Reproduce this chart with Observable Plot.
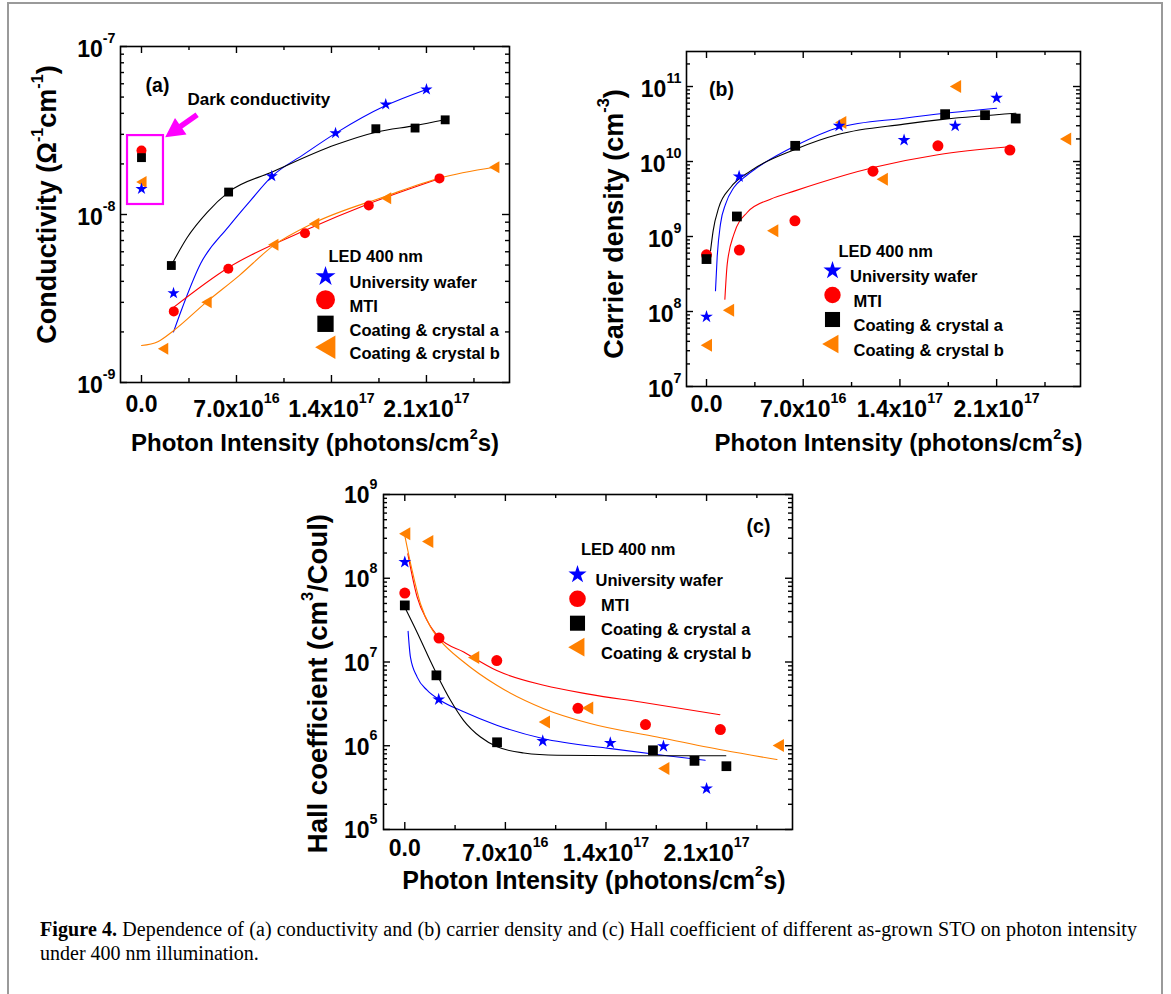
<!DOCTYPE html>
<html>
<head>
<meta charset="utf-8">
<script src="https://cdn.jsdelivr.net/npm/d3@7"></script>
<script src="https://cdn.jsdelivr.net/npm/@observablehq/plot@0.6"></script>
<style>
  body { margin: 0; background: #fff; }
  #fig { position: relative; width: 1171px; height: 994px; overflow: hidden; background: #fff; }
</style>
</head>
<body>
<div id="fig"></div>
<script>
// ---------------- DATA ----------------
const seriesNames = ["University wafer", "MTI", "Coating & crystal a", "Coating & crystal b"];

// photon intensity (photons/cm^2 s) for each sample
const intensityWafer = [0, 2.36e16, 9.6e16, 1.43e17, 1.8e17, 2.1e17];
const intensityMTI   = [0, 2.38e16, 6.4e16, 1.205e17, 1.675e17, 2.196e17];
const intensityCoatA = [0, 2.2e16, 6.42e16, 1.727e17, 2.016e17, 2.238e17];
const intensityCoatB = [0, 1.6e16, 4.8e16, 9.72e16, 1.273e17, 1.803e17, 2.6e17];

// (a) conductivity (1/(Ohm cm))
const condWafer = [1.42e-8, 3.4e-9, 1.69e-8, 3.05e-8, 4.52e-8, 5.55e-8];
const condMTI   = [2.40e-8, 2.65e-9, 4.75e-9, 7.74e-9, 1.13e-8, 1.64e-8];
const condCoatA = [2.18e-8, 4.97e-9, 1.36e-8, 3.24e-8, 3.27e-8, 3.66e-8];
const condCoatB = [1.56e-8, 1.59e-9, 3.0e-9, 6.6e-9, 8.8e-9, 1.25e-8, 1.91e-8];

// (b) carrier density (cm^-3)
const densWafer = [8.5e7, 6.3e9, 2.99e10, 1.93e10, 2.99e10, 7.06e10];
const densMTI   = [5.7e8, 6.6e8, 1.62e9, 7.43e9, 1.62e10, 1.42e10];
const densCoatA = [5.0e8, 1.85e9, 1.62e10, 4.28e10, 4.15e10, 3.74e10];
const densCoatB = [3.56e7, 1.04e8, 1.19e9, 3.31e10, 5.8e9, 1.0e11, 1.99e10];

// (c) Hall coefficient (cm^3/Coul)
const hallWafer = [1.56e8, 3.56e6, 1.14e6, 1.08e6, 9.87e5, 3.08e5];
const hallMTI   = [6.65e7, 1.93e7, 1.04e7, 2.8e6, 1.79e6, 1.56e6];
const hallCoatA = [4.74e7, 6.93e6, 1.1e6, 8.83e5, 6.6e5, 5.7e5];
const hallCoatB = [3.4e8, 2.75e8, 1.13e7, 1.92e6, 2.83e6, 5.35e5, 1.01e6];

// fitted curves
const fitCondWaferX = [2.36e16, 2.87e16, 4.35e16, 6.39e16, 8.03e16, 9.63e16, 1.196e17, 1.432e17, 1.8e17, 2.1e17];
const fitCondWaferY = [2.0e-9, 2.6e-9, 5.09e-9, 8.41e-9, 1.21e-8, 1.69e-8, 2.28e-8, 3.05e-8, 4.45e-8, 5.55e-8];
const fitCondMTIX = [2.36e16, 6.39e16, 1.203e17, 1.675e17, 2.198e17];
const fitCondMTIY = [2.8e-9, 4.82e-9, 8.03e-9, 1.16e-8, 1.64e-8];
const fitCondCoatAX = [2.19e16, 3.37e16, 4.84e16, 6.41e16, 9.63e16, 1.43e17, 1.727e17, 2.016e17, 2.237e17];
const fitCondCoatAY = [4.97e-9, 7.3e-9, 1.03e-8, 1.36e-8, 1.79e-8, 2.6e-8, 3.09e-8, 3.38e-8, 3.66e-8];
const fitCondCoatBX = [0, 1.2e16, 2.38e16, 4.76e16, 7.2e16, 9.7e16, 1.27e17, 1.8e17, 2.2e17, 2.6e17];
const fitCondCoatBY = [1.66e-9, 1.75e-9, 2.04e-9, 3.0e-9, 4.33e-9, 6.5e-9, 8.9e-9, 1.285e-8, 1.65e-8, 1.91e-8];

const fitDensWaferX = [6.5e15, 7.7e15, 1.01e16, 1.38e16, 1.98e16, 2.7e16, 3.67e16, 6.44e16, 9.58e16, 1.43e17, 1.726e17, 2.1e17];
const fitDensWaferY = [1.89e8, 5.25e8, 1.46e9, 2.7e9, 4.5e9, 6.1e9, 8.3e9, 1.62e10, 2.84e10, 3.78e10, 4.4e10, 5.13e10];
const fitDensMTIX = [1.33e16, 1.5e16, 1.98e16, 2.94e16, 4.63e16, 6.4e16, 1.207e17, 1.675e17, 2.194e17];
const fitDensMTIY = [1.46e8, 4.28e8, 1.07e9, 2.09e9, 3.15e9, 4.06e9, 8.3e9, 1.23e10, 1.57e10];
const fitDensCoatAX = [2.9e15, 4.8e15, 8.9e15, 1.74e16, 3.19e16, 6.44e16, 9.58e16, 1.43e17, 1.726e17, 2.24e17];
const fitDensCoatAY = [6.4e8, 1.19e9, 2.44e9, 4.5e9, 7.5e9, 1.46e10, 2.31e10, 3.15e10, 3.67e10, 4.4e10];

const fitHallWaferX = [2.3e15, 3.9e15, 8.6e15, 1.55e16, 2.46e16, 4.1e16, 6.4e16, 9.6e16, 1.434e17, 1.796e17, 2.09e17];
const fitHallWaferY = [2.32e7, 1.15e7, 6.6e6, 4.6e6, 3.5e6, 2.54e6, 1.76e6, 1.22e6, 9.25e5, 7.7e5, 6.7e5];
const fitHallMTIX = [2.1e15, 8.6e15, 1.55e16, 2.46e16, 4.1e16, 6.4e16, 9.67e16, 1.29e17, 1.64e17, 2.193e17];
const fitHallMTIY = [1.96e8, 5.96e7, 3.14e7, 1.9e7, 1.32e7, 7.9e6, 5.27e6, 4.11e6, 3.33e6, 2.35e6];
const fitHallCoatAX = [0, 8.6e15, 1.79e16, 2.25e16, 3.18e16, 4.1e16, 5.27e16, 6.43e16, 8.28e16, 1.06e17, 1.52e17, 2.234e17];
const fitHallCoatAY = [4.5e7, 2.25e7, 1.02e7, 7.0e6, 3.49e6, 2.0e6, 1.27e6, 9.7e5, 8.2e5, 7.7e5, 7.6e5, 7.6e5];
const fitHallCoatBX = [0, 5.1e15, 1.09e16, 1.79e16, 2.46e16, 4.1e16, 6.4e16, 9.67e16, 1.29e17, 1.756e17, 2.22e17, 2.59e17];
const fitHallCoatBY = [3.24e8, 1.24e8, 4.96e7, 2.61e7, 1.81e7, 1.0e7, 5.27e6, 2.77e6, 1.84e6, 1.27e6, 8.84e5, 6.84e5];

// axis ticks
const xMajorTicks = [0, 7e16, 1.4e17, 2.1e17];
const xMinorTicks = [3.5e16, 1.05e17, 1.75e17, 2.45e17];

// annotation of panel (a): dark-conductivity box and arrow (data units)
const darkBox = [{x1: -1.03e16, x2: 1.62e16, y1: 1.147e-8, y2: 2.95e-8}];
const darkArrow = [{x: 4.1e16, y: 3.92e-8}];

// ---------------- STYLE ----------------
const INTENSITY = [intensityWafer, intensityMTI, intensityCoatA, intensityCoatB];
const COLORS = ["#0000ff", "#ff0000", "#000000", "#ff8000"];
const triangleLeft = {
  draw(ctx, size) {
    const s = Math.sqrt(size / Math.PI);
    ctx.moveTo(-1.15 * s, 0);
    ctx.lineTo(1.1 * s, -1.3 * s);
    ctx.lineTo(1.1 * s, 1.3 * s);
    ctx.closePath();
  }
};
const SYMBOLS = ["star", "circle", "square", triangleLeft];
const arrowShape = {
  draw(ctx, l) {
    const hw = 2.8, hh = 10, hl = 19;
    ctx.moveTo(-hw, 0);
    ctx.lineTo(-hw, -(l - hl));
    ctx.lineTo(-hh, -(l - hl));
    ctx.lineTo(0, -l);
    ctx.lineTo(hh, -(l - hl));
    ctx.lineTo(hw, -(l - hl));
    ctx.lineTo(hw, 0);
    ctx.closePath();
  }
};
const SANS = "'Liberation Sans', Arial, Helvetica, sans-serif";

function logTicks(lo, hi) {
  const major = [], minor = [];
  for (let k = Math.floor(Math.log10(lo)); k <= Math.ceil(Math.log10(hi)); k++) {
    for (let m = 1; m <= 9; m++) {
      const v = +(m + "e" + k);
      if (v < lo * 0.999 || v > hi * 1.001) continue;
      (m === 1 ? major : minor).push(v);
    }
  }
  return {major, minor};
}

function fmtX(d) {
  if (d === 0) return "0.0";
  const e = Math.floor(Math.log10(d) + 1e-9);
  return (d / Math.pow(10, e)).toFixed(1) + "x10^{" + e + "}";
}
function fmtY(d) { return "10^{" + Math.round(Math.log10(d)) + "}"; }

const panels = [
  {
    left: 0, top: 0, width: 590, height: 465,
    margin: {top: 46, right: 81, bottom: 83, left: 120},
    xDomain: [-1.547e16, 2.712e17], yDomain: [1e-9, 1e-7],
    ys: [condWafer, condMTI, condCoatA, condCoatB],
    fits: [[fitCondWaferX, fitCondWaferY], [fitCondMTIX, fitCondMTIY], [fitCondCoatAX, fitCondCoatAY], [fitCondCoatBX, fitCondCoatBY]],
    dotR: [3.8, 5.0, 5.0, 4.6], legR: [6.3, 9.5, 9.2, 9.0],
    xPad: 13, yPad: 5, yDy: 3, tickFont: 23,
    xLabel: "Photon Intensity (photons/cm^{2}s)", xLabelFont: 24, xLabelDx: 0, xLabelDy: 61,
    yLabel: "Conductivity (Ω^{-1}cm^{-1})", yLabelFont: 27, yLabelDx: -73, yLabelDy: -10,
    tag: "(a)", tagDx: 37, tagDy: 32,
    leg: {titleDx: 208, titleDy: 204, symDx: [205, 205, 205, 205], dy: [230, 253.3, 277.3, 300.7], textDx: [229, 229, 229, 229]}
  },
  {
    left: 590, top: 0, width: 581, height: 465,
    margin: {top: 51, right: 91, bottom: 79, left: 96},
    xDomain: [-1.448e16, 2.707e17], yDomain: [1e7, 2.93e11],
    ys: [densWafer, densMTI, densCoatA, densCoatB],
    fits: [[fitDensWaferX, fitDensWaferY], [fitDensMTIX, fitDensMTIY], [fitDensCoatAX, fitDensCoatAY], null],
    dotR: [4.0, 5.5, 5.5, 5.0], legR: [5.7, 8.2, 8.5, 7.2],
    xPad: 9, yPad: 5, yDy: 3, tickFont: 23,
    xLabel: "Photon Intensity (photons/cm^{2}s)", xLabelFont: 24, xLabelDx: 15, xLabelDy: 56.6,
    yLabel: "Carrier density (cm^{-3})", yLabelFont: 27, yLabelDx: -72.3, yLabelDy: 5,
    tag: "(b)", tagDx: 35, tagDy: 31,
    leg: {titleDx: 152, titleDy: 194, symDx: [146, 146, 146, 144], dy: [219, 243.5, 268, 292.5], textDx: [163.5, 167, 167, 167]}
  },
  {
    left: 290, top: 465, width: 560, height: 435,
    margin: {top: 29, right: 58, bottom: 71, left: 93},
    xDomain: [-1.482e16, 2.698e17], yDomain: [1e5, 1e9],
    ys: [hallWafer, hallMTI, hallCoatA, hallCoatB],
    fits: [[fitHallWaferX, fitHallWaferY], [fitHallMTIX, fitHallMTIY], [fitHallCoatAX, fitHallCoatAY], [fitHallCoatBX, fitHallCoatBY]],
    dotR: [4.0, 5.5, 5.5, 5.0], legR: [5.7, 8.3, 8.5, 7.2],
    xPad: 10.5, yPad: 6, yDy: 1.5, tickFont: 23,
    xLabel: "Photon Intensity (photons/cm^{2}s)", xLabelFont: 25, xLabelDx: 6, xLabelDy: 51.3,
    yLabel: "Hall coefficient (cm^{3}/Coul)", yLabelFont: 27.5, yLabelDx: -65.3, yLabelDy: 21.6,
    tag: "(c)", tagDx: 375, tagDy: 24.3,
    leg: {titleDx: 197.5, titleDy: 49, symDx: [194, 194, 194, 193], dy: [80, 104.3, 128.7, 152.7], textDx: [212, 217.5, 217.5, 217.5]}
  }
];

function buildPanel(p, idx) {
  const m = p.margin;
  const fw = p.width - m.left - m.right, fh = p.height - m.top - m.bottom;
  const yt = logTicks(p.yDomain[0], p.yDomain[1]);
  const tickStyle = {stroke: "black", strokeWidth: 1.4};
  const marks = [];
  // inward ticks on all four sides
  for (const [vals, len] of [[xMajorTicks, 7], [xMinorTicks, 4]]) {
    marks.push(Plot.ruleX(vals, {x: d => d, insetTop: fh - len, ...tickStyle}));
    marks.push(Plot.ruleX(vals, {x: d => d, insetBottom: fh - len, ...tickStyle}));
  }
  for (const [vals, len] of [[yt.major, 7], [yt.minor, 4]]) {
    marks.push(Plot.ruleY(vals, {y: d => d, insetRight: fw - len, ...tickStyle}));
    marks.push(Plot.ruleY(vals, {y: d => d, insetLeft: fw - len, ...tickStyle}));
  }
  // fitted curves
  p.fits.forEach((f, i) => {
    if (!f) return;
    const [fx, fy] = f;
    marks.push(Plot.line(fx.map((x, j) => ({x, y: fy[j]})),
      {x: "x", y: "y", stroke: COLORS[i], strokeWidth: 1.1, curve: "monotone-x"}));
  });
  // annotations of panel (a)
  if (idx === 0) {
    marks.push(Plot.rect(darkBox, {x1: "x1", x2: "x2", y1: "y1", y2: "y2", fill: "none", stroke: "#ff00ff", strokeWidth: 2.2}));
    marks.push(Plot.vector(darkArrow, {x: "x", y: "y", length: 39, rotate: 235, anchor: "start",
      shape: arrowShape, fill: "#ff00ff", stroke: "none"}));
    marks.push(Plot.text(["Dark conductivity"], {frameAnchor: "top-left", dx: 67, dy: 46, text: d => d,
      textAnchor: "start", fontSize: 17}));
  }
  // data points
  for (const i of [1, 2, 3, 0]) {
    const xs = INTENSITY[i], ys = p.ys[i];
    marks.push(Plot.dot(xs.map((x, j) => ({x, y: ys[j]})),
      {x: "x", y: "y", symbol: SYMBOLS[i], r: p.dotR[i], fill: COLORS[i], stroke: "none"}));
  }
  marks.push(Plot.frame({stroke: "black", strokeWidth: 1.6}));
  // axes
  marks.push(Plot.axisX(xMajorTicks, {anchor: "bottom", tickSize: 0, tickPadding: p.xPad,
    tickFormat: fmtX, fontSize: p.tickFont, label: null}));
  marks.push(Plot.axisY(yt.major, {anchor: "left", tickSize: 0, tickPadding: p.yPad,
    tickFormat: fmtY, fontSize: p.tickFont, label: null, dy: p.yDy}));
  // axis labels
  marks.push(Plot.text([p.xLabel], {frameAnchor: "bottom", dx: p.xLabelDx, dy: p.xLabelDy, text: d => d,
    fontSize: p.xLabelFont, textAnchor: "middle", lineAnchor: "middle"}));
  marks.push(Plot.text([p.yLabel], {frameAnchor: "left", dx: p.yLabelDx, dy: p.yLabelDy, text: d => d,
    rotate: -90, fontSize: p.yLabelFont, textAnchor: "middle", lineAnchor: "middle"}));
  // panel tag
  marks.push(Plot.text([p.tag], {frameAnchor: "top-left", dx: p.tagDx, dy: p.tagDy, text: d => d,
    fontSize: 19.5, textAnchor: "middle"}));
  // legend
  const L = p.leg;
  marks.push(Plot.text(["LED 400 nm"], {frameAnchor: "top-left", dx: L.titleDx, dy: L.titleDy, text: d => d,
    fontSize: 16.5, textAnchor: "start"}));
  seriesNames.forEach((name, i) => {
    marks.push(Plot.dot([name], {frameAnchor: "top-left", dx: L.symDx[i], dy: L.dy[i],
      symbol: SYMBOLS[i], r: p.legR[i], fill: COLORS[i], stroke: "none"}));
    marks.push(Plot.text([name], {frameAnchor: "top-left", dx: L.textDx[i], dy: L.dy[i], text: d => d,
      fontSize: 16.5, textAnchor: "start"}));
  });

  return Plot.plot({
    width: p.width, height: p.height,
    marginTop: m.top, marginRight: m.right, marginBottom: m.bottom, marginLeft: m.left,
    x: {type: "linear", domain: p.xDomain},
    y: {type: "log", domain: p.yDomain},
    style: {fontFamily: SANS, fontWeight: "bold", background: "transparent", color: "black", overflow: "visible"},
    marks
  });
}

// turn "^{...}" into raised, smaller tspans
const NS = "http://www.w3.org/2000/svg";
function supify(t, raiseEm, scale, shift) {
  const s = t.textContent;
  if (!s.includes("^{")) return;
  const fs = parseFloat(getComputedStyle(t).fontSize) || 16;
  const raise = raiseEm * fs;
  const parts = s.split(/\^\{([^}]*)\}/);
  while (t.firstChild) t.removeChild(t.firstChild);
  let cur = 0;
  parts.forEach((part, i) => {
    if (!part) return;
    const sup = i % 2 === 1;
    const target = shift - (sup ? raise : 0);
    const ts = document.createElementNS(NS, "tspan");
    if (target !== cur) ts.setAttribute("dy", (target - cur).toFixed(2));
    if (sup) ts.setAttribute("font-size", (scale * fs).toFixed(2));
    ts.textContent = part;
    t.appendChild(ts);
    cur = target;
  });
}

const fig = document.getElementById("fig");
panels.forEach((p, idx) => {
  const svg = buildPanel(p, idx);
  svg.style.position = "absolute";
  svg.style.left = p.left + "px";
  svg.style.top = p.top + "px";
  svg.style.maxWidth = "none";
  fig.appendChild(svg);
  svg.querySelectorAll("text").forEach(t => {
    const g = t.closest("g[aria-label]");
    const lab = g ? g.getAttribute("aria-label") : "";
    if (lab === "x-axis tick label") supify(t, 0.62, 0.62, 5);
    else if (lab === "y-axis tick label") supify(t, 0.62, 0.62, 0);
    else supify(t, 0.5, 0.6, 0);
  });
});

// border and caption
const cap = d3.select(fig).append("svg")
  .attr("width", 1171).attr("height", 994)
  .style("position", "absolute").style("left", "0px").style("top", "0px");
cap.append("rect").attr("x", 8).attr("y", 3).attr("width", 1154).attr("height", 1010)
  .attr("fill", "none").attr("stroke", "#9a9a9a").attr("stroke-width", 2);
const serif = "'Liberation Serif', 'DejaVu Serif', 'Times New Roman', serif";
const t1 = cap.append("text").attr("x", 40).attr("y", 936)
  .attr("font-family", serif).attr("font-size", 20)
  .attr("textLength", 1097).attr("lengthAdjust", "spacing");
t1.append("tspan").attr("font-weight", "bold").text("Figure 4.");
t1.append("tspan").text(" Dependence of (a) conductivity and (b) carrier density and (c) Hall coefficient of different as-grown STO on photon intensity");
cap.append("text").attr("x", 40).attr("y", 960)
  .attr("font-family", serif).attr("font-size", 20)
  .text("under 400 nm illumination.");
</script>
</body>
</html>
